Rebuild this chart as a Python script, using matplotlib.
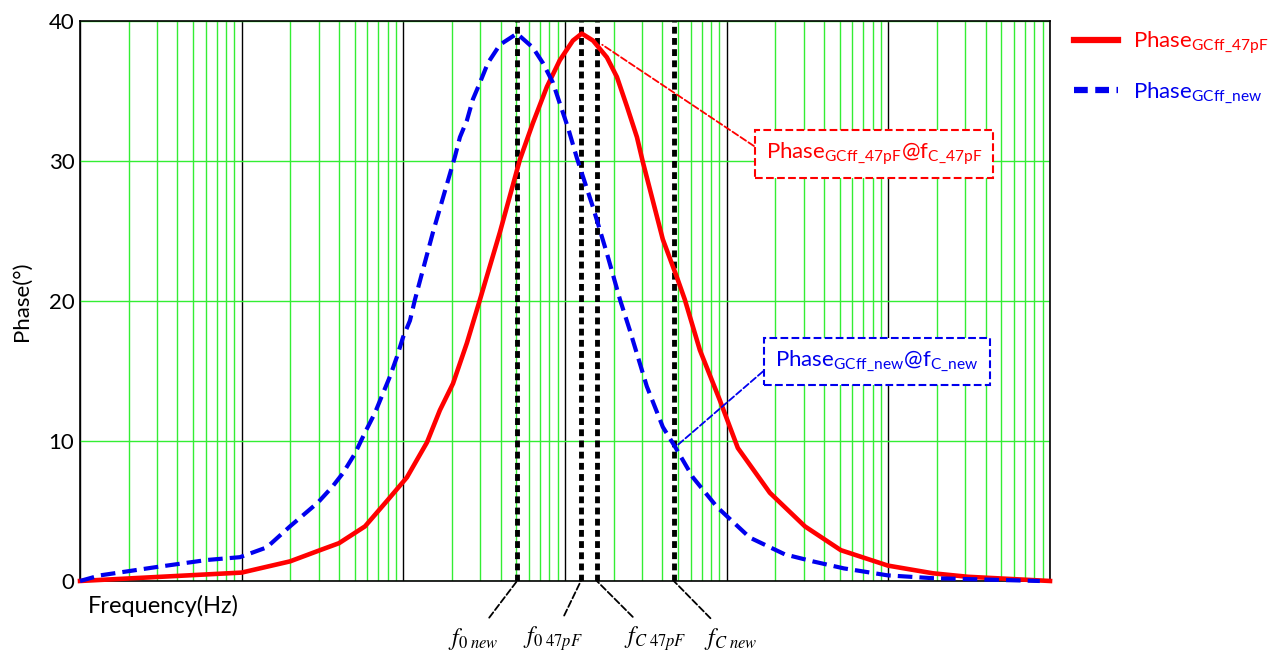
import matplotlib
matplotlib.use("Agg")
import matplotlib.pyplot as plt
from matplotlib.ticker import LogLocator, NullFormatter
from matplotlib.lines import Line2D

plt.rcParams['font.family'] = ['Lato', 'DejaVu Sans']
plt.rcParams['mathtext.fontset'] = 'stix'

# phase of GCff with 47pF (red, solid)
freq_47pF = [10, 100, 199, 305, 400, 579, 803, 1052, 1400, 1683, 2028, 2473, 2979,
             3954, 5260, 6324, 7727, 9290, 11190, 12700, 14890, 18160, 20940,
             24150, 27860, 30340, 40270, 49200, 55080, 68230, 90780, 117200,
             184900, 304800, 508200, 993000, 1884000, 3105000, 10000000]
phase_47pF = [0.0, 0.6, 1.4, 2.2, 2.7, 3.9, 5.8, 7.4, 9.9, 12.2, 14.1, 17.0, 20.1,
              24.9, 30.1, 32.7, 35.3, 37.2, 38.6, 39.1, 38.6, 37.4, 36.0,
              33.9, 31.7, 29.9, 24.4, 21.7, 20.1, 16.5, 12.9, 9.5,
              6.3, 3.9, 2.2, 1.1, 0.55, 0.3, 0.0]

# phase of GCff new (blue, dashed)
freq_new = [10, 13.3, 29.9, 61.0, 97.5, 143, 199, 296, 362, 423, 502, 579, 667,
            748, 826, 912, 995, 1099, 1180, 1524, 2084, 2239, 2473, 2692, 2979,
            3335, 3954, 5047, 6324, 7295, 8414, 9290, 10420, 11850, 14890,
            18160, 21880, 25180, 32060, 40270, 47860, 61800, 86900, 139000,
            229100, 341200, 530900, 993000, 1884000, 8650000]
phase_new = [0.0, 0.4, 1.0, 1.5, 1.7, 2.4, 3.9, 5.6, 6.7, 7.7, 9.1, 10.6, 12.0,
             13.4, 14.6, 16.0, 17.4, 18.6, 20.1, 24.9, 30.3, 31.7, 32.9, 34.4, 35.6,
             37.0, 38.3, 39.1, 38.1, 37.0, 35.6, 34.1, 32.4, 30.2, 26.7,
             23.4, 20.1, 17.9, 13.9, 11.0, 9.6, 7.4, 5.3, 3.1,
             1.9, 1.4, 0.9, 0.4, 0.2, 0.0]

# marker frequencies
f0_new = 5050
f0_47pF = 12530
fC_47pF = 15740
fC_new = 47100

fig = plt.figure(figsize=(12.76, 6.55), dpi=100)
ax = fig.add_axes([0.0627, 0.113, 0.7602, 0.855])

ax.set_xscale('log')
ax.set_xlim(10, 1e7)
ax.set_ylim(0, 40)
ax.set_yticks([0, 10, 20, 30, 40])
ax.xaxis.set_major_locator(LogLocator(base=10, numticks=20))
ax.xaxis.set_minor_locator(LogLocator(base=10, subs=range(2, 10), numticks=100))
ax.xaxis.set_major_formatter(NullFormatter())
ax.xaxis.set_minor_formatter(NullFormatter())
ax.tick_params(which='both', length=0, labelsize=16, pad=4)

ax.grid(True, which='minor', axis='x', color='#33ee33', lw=1)
ax.grid(True, which='major', axis='x', color='black', lw=1)
ax.grid(True, which='major', axis='y', color='#33ee33', lw=1)
ax.set_axisbelow(True)
for s in ax.spines.values():
    s.set_linewidth(1.2)

# marker lines
for f in [f0_new, f0_47pF, fC_47pF, fC_new]:
    ax.axvline(f, color='black', ls=(0, (1.4, 0.9)), lw=3.5, zorder=3)

ax.plot(freq_47pF, phase_47pF, color='#ff0000', lw=3.3, zorder=4, clip_on=False,
        solid_joinstyle='round')
ax.plot(freq_new, phase_new, color='#0000ee', lw=3.0, ls=(0, (3.5, 1.7)),
        zorder=5, clip_on=False, dash_joinstyle='round')

ax.set_ylabel('Phase(°)', fontsize=16, labelpad=12)
ax.text(0.008, -0.025, 'Frequency(Hz)', transform=ax.transAxes,
        fontsize=17, va='top', ha='left')

# boxed callouts
ax.annotate(r'Phase$_{\mathregular{GCff\_47pF}}$@f$_{\mathregular{C\_47pF}}$',
            xy=(17000, 38.3), xytext=(174600, 30.5), textcoords='data',
            color='red', fontsize=16, va='center', ha='left',
            bbox=dict(boxstyle='square,pad=0.5', fc='white', ec='red', ls='--', lw=1.5),
            arrowprops=dict(arrowstyle='-', color='red', ls='--', lw=1.3,
                            relpos=(0, 0.5), shrinkA=0, shrinkB=0), zorder=6)
ax.annotate(r'Phase$_{\mathregular{GCff\_new}}$@f$_{\mathregular{C\_new}}$',
            xy=(48500, 9.6), xytext=(198600, 15.7), textcoords='data',
            color='#0000ee', fontsize=16, va='center', ha='left',
            bbox=dict(boxstyle='square,pad=0.5', fc='white', ec='#0000ee', ls='--', lw=1.5),
            arrowprops=dict(arrowstyle='-', color='#0000ee', ls='--', lw=1.3,
                            relpos=(0, 0.5), shrinkA=0, shrinkB=0), zorder=6)

# labels under the axis
marks = [(f0_new, r'$f_{0\ new}$', -44), (f0_47pF, r'$f_{0\ 47pF}$', -28),
         (fC_47pF, r'$f_{C\ 47pF}$', 58), (fC_new, r'$f_{C\ new}$', 57)]
for f, lab, dx in marks:
    ax.annotate(lab, xy=(f, 0), xytext=(dx, -58), textcoords='offset pixels',
                fontsize=17, ha='center', va='center', annotation_clip=False,
                arrowprops=dict(arrowstyle='-', color='black', ls='--', lw=1.3,
                                shrinkA=5, shrinkB=0))

handles = [Line2D([], [], color='#ff0000', lw=4.5),
           Line2D([], [], color='#0000ee', lw=4.5, ls=(0, (2.2, 1.2)))]
leg = fig.legend(handles, [r'Phase$_{\mathregular{GCff\_47pF}}$', r'Phase$_{\mathregular{GCff\_new}}$'],
                 loc='upper left', bbox_to_anchor=(0.826, 0.985), frameon=False,
                 fontsize=16, handlelength=2.0, handletextpad=0.65, labelspacing=1.1)
leg.get_texts()[0].set_color('red')
leg.get_texts()[1].set_color('#0000ee')

fig.savefig('out.png', dpi=100)
